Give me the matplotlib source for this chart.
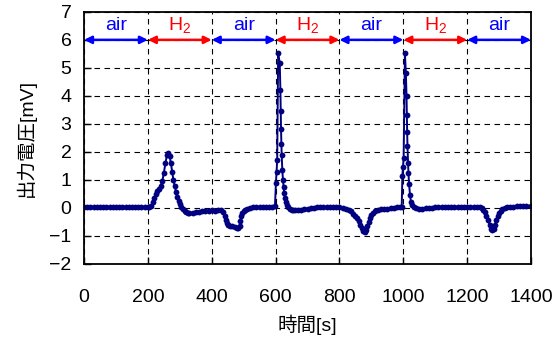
import numpy as np
import matplotlib
matplotlib.use("Agg")
import matplotlib.pyplot as plt

plt.rcParams['font.family'] = ['Liberation Sans', 'Noto Sans CJK JP', 'DejaVu Sans']
plt.rcParams['mathtext.fontset'] = 'custom'
plt.rcParams['mathtext.rm'] = 'Liberation Sans'

# time [s] and output voltage [mV] (rows of 10 kept aligned)
t = [0, 10, 20, 30, 40, 50, 60, 70, 80, 90,
     100, 110, 120, 130, 140, 150, 160, 170, 180, 190,
     200, 205, 210, 215, 220, 225, 230, 235, 240, 245,
     250, 255, 260, 264, 268, 272, 276, 280, 284, 288,
     292, 296, 300, 305, 310, 315, 320, 325, 330, 340,
     350, 360, 370, 380, 390, 400, 410, 420, 430, 436,
     440, 444, 448, 452, 458, 465, 472, 478, 483, 487,
     490, 493, 496, 500, 505, 510, 520, 530, 540, 550,
     560, 570, 580, 590, 598, 601, 603, 605, 608, 613,
     615, 616, 617, 618, 619, 621, 623, 625, 627, 630,
     633, 636, 640, 645, 650, 655, 660, 670, 680, 690,
     700, 710, 720, 730, 740, 750, 760, 770, 780, 790,
     800, 810, 820, 830, 836, 842, 848, 854, 860, 865,
     870, 875, 879, 883, 887, 891, 895, 900, 906, 912,
     920, 930, 940, 950, 960, 970, 980, 990, 995, 997,
     999, 1001, 1005, 1008, 1010, 1011, 1012, 1013, 1015, 1016,
     1018, 1021, 1024, 1027, 1032, 1040, 1050, 1060, 1070, 1080,
     1090, 1100, 1110, 1120, 1130, 1140, 1150, 1160, 1170, 1180,
     1190, 1200, 1210, 1220, 1230, 1240, 1245, 1250, 1255, 1260,
     1265, 1270, 1275, 1279, 1283, 1287, 1291, 1295, 1300, 1305,
     1310, 1318, 1325, 1335, 1345, 1355, 1365, 1375, 1385, 1400]
v = [0.02, 0.02, 0.02, 0.02, 0.02, 0.02, 0.02, 0.02, 0.02, 0.02,
     0.02, 0.02, 0.02, 0.02, 0.02, 0.02, 0.02, 0.02, 0.02, 0.02,
     0.03, 0.05, 0.08, 0.2, 0.35, 0.5, 0.6, 0.68, 0.78, 0.95,
     1.25, 1.6, 1.9, 1.97, 1.85, 1.6, 1.3, 1.0, 0.78, 0.58,
     0.4, 0.25, 0.13, 0.04, -0.03, -0.1, -0.15, -0.18, -0.19, -0.17,
     -0.15, -0.13, -0.12, -0.11, -0.1, -0.09, -0.1, -0.08, -0.08, -0.15,
     -0.28, -0.42, -0.53, -0.6, -0.63, -0.66, -0.69, -0.71, -0.73, -0.65,
     -0.48, -0.3, -0.18, -0.11, -0.06, -0.03, 0.0, 0.02, 0.03, 0.04,
     0.04, 0.05, 0.05, 0.05, 0.06, 0.9, 1.3, 1.7, 5.52, 5.17,
     4.2, 3.45, 2.8, 2.3, 1.9, 1.36, 1.0, 0.76, 0.52, 0.35,
     0.2, 0.1, 0.02, -0.04, -0.07, -0.08, -0.08, -0.07, -0.06, -0.04,
     -0.02, 0.0, 0.01, 0.02, 0.03, 0.03, 0.03, 0.03, 0.03, 0.03,
     0.02, 0.0, -0.02, -0.06, -0.12, -0.2, -0.28, -0.36, -0.48, -0.6,
     -0.72, -0.83, -0.86, -0.8, -0.66, -0.5, -0.36, -0.25, -0.17, -0.12,
     -0.08, -0.05, -0.03, -0.02, 0.0, 0.01, 0.02, 0.03, 0.04, 1.15,
     1.45, 1.8, 5.52, 4.8, 4.0, 3.3, 2.7, 2.2, 1.6, 1.25,
     0.85, 0.45, 0.22, 0.1, 0.03, -0.01, -0.02, -0.02, -0.01, 0.0,
     0.01, 0.02, 0.02, 0.03, 0.03, 0.03, 0.03, 0.03, 0.03, 0.03,
     0.03, 0.03, 0.03, 0.03, 0.03, 0.03, 0.0, -0.06, -0.15, -0.28,
     -0.42, -0.6, -0.75, -0.8, -0.75, -0.6, -0.42, -0.28, -0.18, -0.1,
     -0.05, -0.01, 0.02, 0.04, 0.05, 0.06, 0.07, 0.07, 0.08, 0.08]

# gas phases shown as arrows on top
phase_edges = [0, 200, 400, 600, 800, 1000, 1200, 1400]
phase_names = ['air', 'H$_\\mathrm{2}$', 'air', 'H$_\\mathrm{2}$', 'air', 'H$_\\mathrm{2}$', 'air']
phase_colors = ['#0000FF', '#FF0000', '#0000FF', '#FF0000', '#0000FF', '#FF0000', '#0000FF']

fig = plt.figure(figsize=(5.59, 3.38), dpi=100)
ax = fig.add_axes([0.1503, 0.219, 0.7997, 0.746])

ax.plot(t, v, color='#000080', linewidth=1.4, marker='o', markersize=4.2,
        markeredgewidth=0)

for i in range(len(phase_names)):
    x0, x1 = phase_edges[i], phase_edges[i + 1]
    ax.annotate('', xy=(x1, 6), xytext=(x0, 6),
                arrowprops=dict(arrowstyle='<|-|>', color=phase_colors[i], lw=1.8,
                                mutation_scale=11, shrinkA=0, shrinkB=0))
    ax.text((x0 + x1) / 2, 6.5, phase_names[i], color=phase_colors[i], fontsize=14,
            ha='center', va='center')

ax.set_xlim(0, 1400)
ax.set_ylim(-2, 7)
ax.set_xticks(range(0, 1401, 200))
ax.set_yticks(range(-2, 8))
ax.tick_params(direction='in', length=5, width=1, labelsize=14)
ax.tick_params(axis='x', pad=18)
ax.tick_params(axis='y', pad=9)
ax.grid(True, color='k', linestyle=(0, (5, 4)), linewidth=0.8)
for s in ax.spines.values():
    s.set_linewidth(1.3)

ax.set_xlabel('時間[s]', fontsize=14, labelpad=6)
ax.set_ylabel('出力電圧[mV]', fontsize=14, labelpad=10)

fig.savefig('out.png', dpi=100)
